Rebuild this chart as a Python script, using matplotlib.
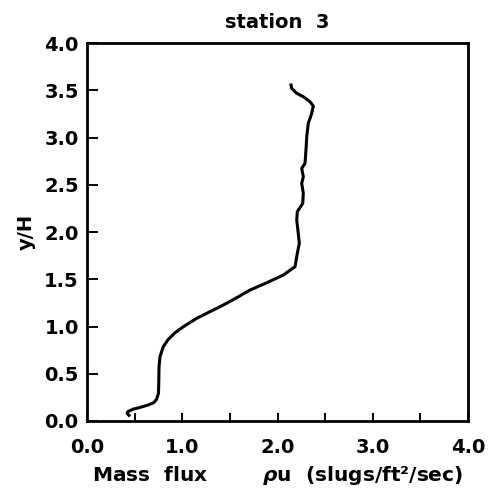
import matplotlib
matplotlib.use("Agg")
import matplotlib.pyplot as plt
from matplotlib.ticker import MultipleLocator

# Mass flux (rho*u) and y/H
mass_flux = [0.44, 0.42, 0.43, 0.48, 0.56, 0.64, 0.70, 0.73, 0.75, 0.753, 0.756, 0.766,
             0.80, 0.854, 0.924, 1.011, 1.152, 1.291, 1.431, 1.572, 1.711, 1.887,
             2.061, 2.184, 2.208, 2.229, 2.218, 2.202, 2.208, 2.265, 2.271, 2.254,
             2.271, 2.254, 2.289, 2.299, 2.307, 2.323, 2.359, 2.376, 2.341, 2.271,
             2.202, 2.149, 2.142]
y_over_h = [0.06, 0.08, 0.10, 0.124, 0.145, 0.169, 0.194, 0.23, 0.293, 0.399, 0.575, 0.68,
            0.786, 0.865, 0.934, 0.998, 1.087, 1.157, 1.228, 1.305, 1.386, 1.463,
            1.545, 1.633, 1.775, 1.88, 1.986, 2.127, 2.215, 2.304, 2.41, 2.515,
            2.585, 2.674, 2.727, 2.868, 3.008, 3.15, 3.256, 3.333, 3.379, 3.432,
            3.468, 3.521, 3.556]

x_ticks = [0.0, 1.0, 2.0, 3.0, 4.0]
x_ticklabels = ["0.0", "1.0", "2.0", "3.0", "4.0"]
y_ticks = [0.0, 0.5, 1.0, 1.5, 2.0, 2.5, 3.0, 3.5, 4.0]
y_ticklabels = ["0.0", "0.5", "1.0", "1.5", "2.0", "2.5", "3.0", "3.5", "4.0"]

plt.rcParams['font.family'] = ['DejaVu Sans']
plt.rcParams['font.weight'] = 'bold'

fig = plt.figure(figsize=(4.89, 4.95), dpi=100)
ax = fig.add_axes([0.178, 0.1495, 0.779, 0.7635])

ax.plot(mass_flux, y_over_h, color="black", lw=2.2, solid_joinstyle="round")

ax.set_xlim(0, 4.0)
ax.set_ylim(0, 4.0)
ax.set_xticks(x_ticks)
ax.set_xticklabels(x_ticklabels)
ax.xaxis.set_minor_locator(MultipleLocator(0.5))
ax.set_yticks(y_ticks)
ax.set_yticklabels(y_ticklabels)

ax.tick_params(axis="both", which="both", direction="in", top=False, right=False,
               labelsize=14, width=1.4, colors="black")
ax.tick_params(axis="x", which="both", length=6, pad=12)
ax.tick_params(axis="y", which="major", length=8, pad=6)

for s in ax.spines.values():
    s.set_linewidth(2.0)

ax.set_title("station  3", fontsize=14, fontweight="bold", pad=11)
ax.set_xlabel("Mass  flux        $\\rho$u  (slugs/ft\u00b2/sec)", fontsize=14.5,
              fontweight="bold", labelpad=5)
ax.set_ylabel("y/H", fontsize=14, fontweight="bold", labelpad=6)

fig.savefig("out.png", dpi=100)
